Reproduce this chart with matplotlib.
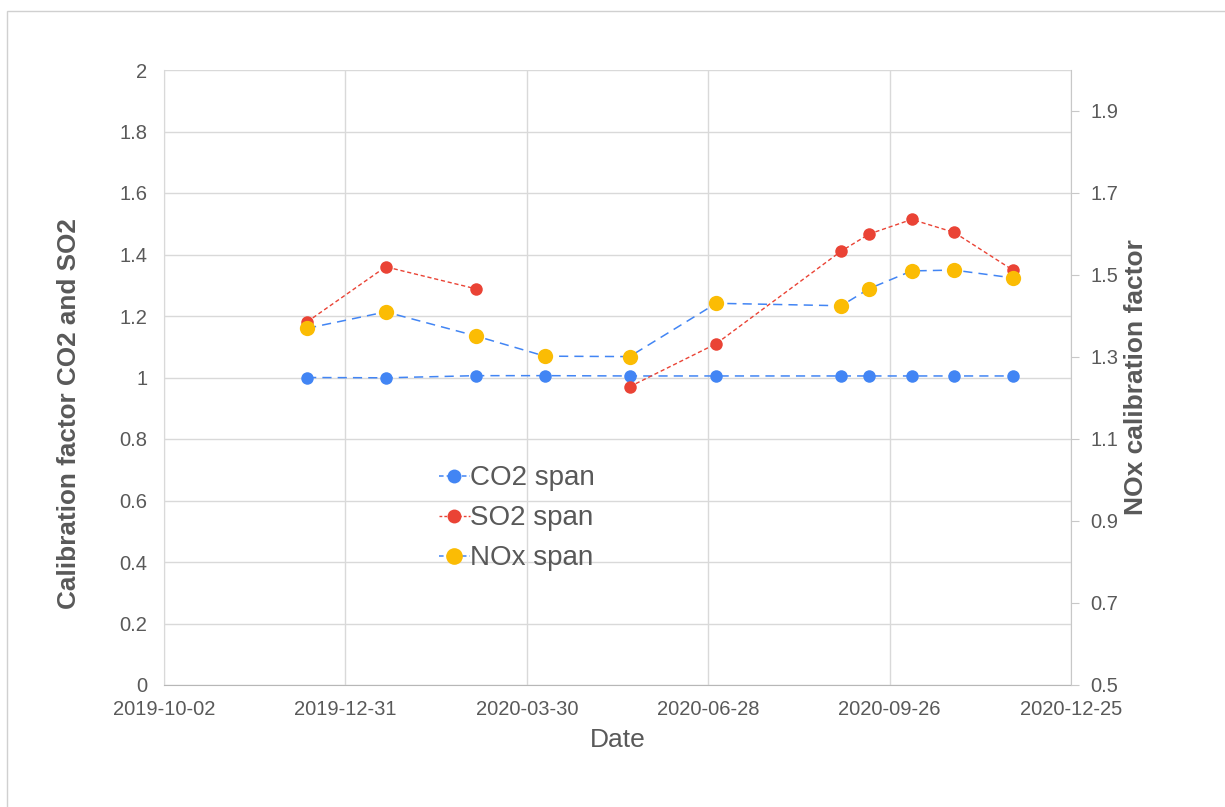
import numpy as np
import pandas as pd
import matplotlib
matplotlib.use("Agg")
import matplotlib.pyplot as plt
import matplotlib.dates as mdates
from matplotlib.lines import Line2D
from matplotlib.patches import Rectangle

"""DATA"""
dates = pd.to_datetime([
    "2019-12-12", "2020-01-20", "2020-03-05", "2020-04-08", "2020-05-20",
    "2020-07-02", "2020-09-02", "2020-09-16", "2020-10-07", "2020-10-28",
    "2020-11-26",
])
co2_span = [1.000, 0.999, 1.006, 1.006, 1.005, 1.005, 1.005, 1.005, 1.005, 1.005, 1.005]
so2_span = [1.181, 1.360, 1.288, np.nan, 0.970, 1.110, 1.411, 1.467, 1.514, 1.472, 1.350]
nox_span = [1.370, 1.410, 1.351, 1.302, 1.301, 1.431, 1.425, 1.467, 1.510, 1.512, 1.493]

x_start = pd.Timestamp("2019-10-02")
x_end = pd.Timestamp("2020-12-25")
x_ticks = pd.date_range(x_start, x_end, freq="90D")
left_ticks = [0, 0.2, 0.4, 0.6, 0.8, 1, 1.2, 1.4, 1.6, 1.8, 2]
right_ticks = [0.5, 0.7, 0.9, 1.1, 1.3, 1.5, 1.7, 1.9]

"""STYLE"""
blue = "#4285F4"
red = "#EA4335"
yellow = "#FBBC04"
txt = "#595959"
grid_c = "#d9d9d9"
plt.rcParams["font.family"] = ["Liberation Sans", "DejaVu Sans"]

fig = plt.figure(figsize=(12.25, 8.07), dpi=100)
W, H = 1225, 807
fig.patches.append(Rectangle((7 / W, -0.1), 1.2, 1 - 11 / H + 0.1, transform=fig.transFigure,
                             fill=False, edgecolor="#d0d0d0", linewidth=1))

ax = fig.add_axes([164 / W, (H - 685) / H, 907 / W, 615 / H])
ax2 = ax.twinx()

"""PLOTTING"""
ax.plot(dates, co2_span, color=blue, linestyle=(0, (6, 4)), linewidth=1.1,
        marker="o", markersize=9, markeredgewidth=0, zorder=3)
ax.plot(dates, so2_span, color=red, linestyle=(0, (3, 2)), linewidth=1.0,
        marker="o", markersize=9, markeredgewidth=0, zorder=4)
ax2.plot(dates, nox_span, color=blue, linestyle=(0, (6, 4)), linewidth=1.1,
         marker="o", markersize=11, markerfacecolor=yellow, markeredgewidth=0, zorder=3)

ax.set_xlim(x_start, x_end)
ax.set_ylim(0, 2)
ax2.set_ylim(0.5, 2.0)
ax.set_xticks(x_ticks)
ax.xaxis.set_major_formatter(mdates.DateFormatter("%Y-%m-%d"))
ax.set_yticks(left_ticks)
ax.set_yticklabels([("%g" % v) for v in left_ticks])
ax2.set_yticks(right_ticks)
ax2.set_yticklabels(["%.1f" % v for v in right_ticks])

ax.grid(True, color=grid_c, linewidth=1)
ax.set_axisbelow(True)
for a in (ax, ax2):
    for s in a.spines.values():
        s.set_visible(False)
ax.spines["left"].set_visible(True)
ax.spines["left"].set_color(grid_c)
ax.spines["bottom"].set_visible(True)
ax.spines["bottom"].set_color("#b7b7b7")
ax2.spines["right"].set_visible(True)
ax2.spines["right"].set_color("#c8c8c8")

ax.tick_params(axis="x", length=0, labelsize=14.5, labelcolor=txt, pad=11)
ax.tick_params(axis="y", length=0, labelsize=14.5, labelcolor=txt, pad=12)
ax2.tick_params(axis="y", length=6, color="#c8c8c8", labelsize=14.5, labelcolor=txt, pad=8)

ax.set_xlabel("Date", fontsize=19, color=txt, labelpad=6)
ax.set_ylabel("Calibration factor CO2 and SO2", fontsize=18.8, fontweight="bold", color=txt)
ax.yaxis.set_label_coords(-0.092, 0.441)
ax2.set_ylabel("NOx calibration factor", fontsize=19, fontweight="bold", color=txt, labelpad=4)

handles = [
    Line2D([], [], color=blue, linestyle=(0, (3, 2)), linewidth=1.1, marker="o",
           markersize=10, markeredgewidth=0),
    Line2D([], [], color=red, linestyle=(0, (2, 1.5)), linewidth=1.0, marker="o",
           markersize=10, markeredgewidth=0),
    Line2D([], [], color=blue, linestyle=(0, (3, 2)), linewidth=1.1, marker="o",
           markersize=12, markerfacecolor=yellow, markeredgewidth=0),
]
leg = ax2.legend(handles, ["CO2 span", "SO2 span", "NOx span"], loc="upper left",
                 bbox_to_anchor=(0.291, 0.375), frameon=False, fontsize=20,
                 handlelength=1.1, handletextpad=0.0, labelspacing=0.5, borderaxespad=0)
for t in leg.get_texts():
    t.set_color(txt)

fig.savefig("out.png", dpi=100, facecolor="white")
